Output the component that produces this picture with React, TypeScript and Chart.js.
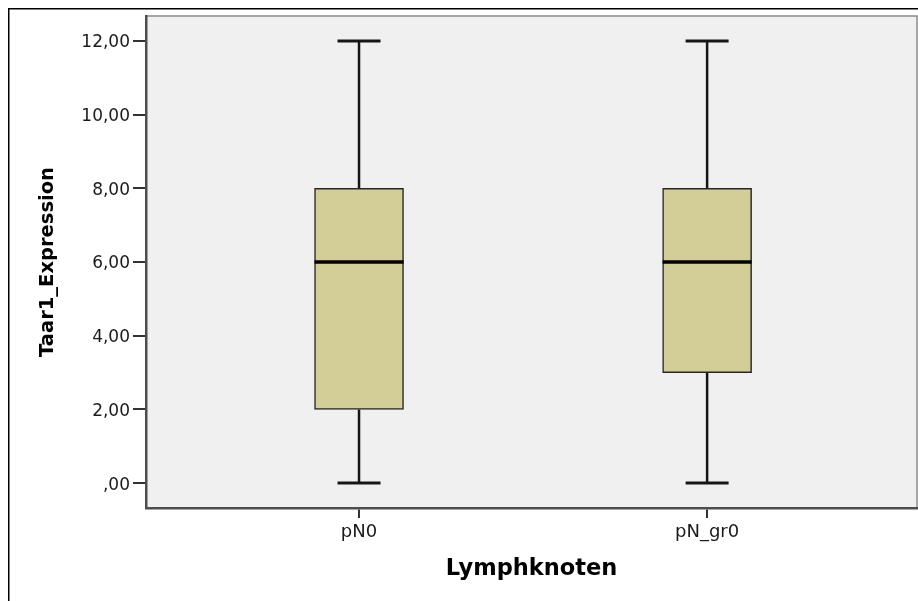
import { useEffect, useRef } from "react";
import { Chart, registerables } from "chart.js";

Chart.register(...registerables);

// Groups and their five-number summaries
const categories = ["pN0", "pN_gr0"];
const whiskerLow = [0, 0];
const quartile1 = [2, 3];
const medians = [6, 6];
const quartile3 = [8, 8];
const whiskerHigh = [12, 12];
const yTicks = [0, 2, 4, 6, 8, 10, 12];

const BOX_FILL = "#d3ce97";
const FONT = "'DejaVu Sans', sans-serif";

// German decimal comma, leading zero dropped for |v| < 1
const formatValue = (v: number) => {
  const s = v.toFixed(2).replace(".", ",");
  return Math.abs(v) < 1 ? s.replace(/^(-?)0,/, "$1,") : s;
};

const boxPlotPlugin = {
  id: "boxWhiskers",
  beforeDraw(chart: any) {
    const { ctx, chartArea: a } = chart;
    ctx.save();
    // outer frame
    ctx.strokeStyle = "#000";
    ctx.lineWidth = 1.5;
    ctx.beginPath();
    ctx.moveTo(8.75, chart.height + 5);
    ctx.lineTo(8.75, 8.75);
    ctx.lineTo(chart.width + 5, 8.75);
    ctx.stroke();
    // plot background
    ctx.fillStyle = "#f0f0f0";
    ctx.fillRect(a.left, a.top, a.right - a.left, a.bottom - a.top);
    ctx.strokeStyle = "#8a8a8a";
    ctx.lineWidth = 1.5;
    ctx.beginPath();
    ctx.moveTo(a.left, a.top);
    ctx.lineTo(a.right, a.top);
    ctx.lineTo(a.right, a.bottom);
    ctx.stroke();
    ctx.restore();
  },
  beforeDatasetsDraw(chart: any) {
    const { ctx } = chart;
    const xs = chart.scales.x;
    const ys = chart.scales.y;
    const capHalf = 21.5;
    ctx.save();
    ctx.strokeStyle = "#161616";
    categories.forEach((_, i) => {
      const x = xs.getPixelForValue(i);
      const yMin = ys.getPixelForValue(whiskerLow[i]);
      const yQ1 = ys.getPixelForValue(quartile1[i]);
      const yQ3 = ys.getPixelForValue(quartile3[i]);
      const yMax = ys.getPixelForValue(whiskerHigh[i]);
      ctx.lineWidth = 2.5;
      ctx.beginPath();
      ctx.moveTo(x, yQ3);
      ctx.lineTo(x, yMax);
      ctx.moveTo(x, yQ1);
      ctx.lineTo(x, yMin);
      ctx.stroke();
      ctx.lineWidth = 3;
      ctx.beginPath();
      ctx.moveTo(x - capHalf, yMax);
      ctx.lineTo(x + capHalf, yMax);
      ctx.moveTo(x - capHalf, yMin);
      ctx.lineTo(x + capHalf, yMin);
      ctx.stroke();
    });
    ctx.restore();
  },
  afterDatasetsDraw(chart: any) {
    const { ctx } = chart;
    const meta = chart.getDatasetMeta(0);
    const ys = chart.scales.y;
    ctx.save();
    ctx.strokeStyle = "#000";
    ctx.lineWidth = 3.5;
    meta.data.forEach((bar: any, i: number) => {
      const half = bar.width / 2;
      const y = ys.getPixelForValue(medians[i]);
      ctx.beginPath();
      ctx.moveTo(bar.x - half, y);
      ctx.lineTo(bar.x + half, y);
      ctx.stroke();
    });
    ctx.restore();
  },
};

export default function App() {
  const canvasRef = useRef<HTMLCanvasElement | null>(null);

  useEffect(() => {
    if (!canvasRef.current) return;
    const chart = new Chart(canvasRef.current, {
      type: "bar",
      data: {
        datasets: [
          {
            data: categories.map((_, i) => ({ x: i, y: [quartile1[i], quartile3[i]] })) as any,
            backgroundColor: BOX_FILL,
            borderColor: "#262626",
            borderWidth: 1.5,
            borderSkipped: false,
            barThickness: 89,
          },
        ],
      },
      options: {
        responsive: false,
        animation: false,
        devicePixelRatio: 1,
        layout: { padding: { top: 16, right: 1, left: 0, bottom: 0 } },
        plugins: {
          legend: { display: false },
          tooltip: { enabled: false },
        },
        scales: {
          x: {
            type: "linear",
            offset: false,
            min: -0.612,
            max: 1.603,
            afterBuildTicks: (s: any) => {
              s.ticks = categories.map((_, i) => ({ value: i }));
            },
            afterFit: (s: any) => {
              s.height = 93;
            },
            grid: {
              offset: false,
              drawOnChartArea: false,
              drawTicks: true,
              tickLength: 10,
              color: "#333",
              lineWidth: 2,
            },
            border: { display: true, color: "#4d4d4d", width: 2.5 },
            ticks: {
              padding: 4,
              color: "#1a1a1a",
              font: { family: FONT, size: 18 },
              maxRotation: 0,
              autoSkip: false,
              callback: (v: any) => categories[Number(v)] ?? "",
            },
            title: {
              display: true,
              text: "Lymphknoten",
              color: "#000",
              font: { family: FONT, size: 22.5, weight: "bold" },
              padding: { top: 0, bottom: 18 },
            },
          },
          y: {
            type: "linear",
            min: -0.675,
            max: 12.675,
            afterBuildTicks: (s: any) => {
              s.ticks = yTicks.map((v) => ({ value: v }));
            },
            afterFit: (s: any) => {
              s.width = 146;
            },
            grid: {
              drawOnChartArea: false,
              drawTicks: true,
              tickLength: 13,
              color: "#333",
              lineWidth: 2,
            },
            border: { display: true, color: "#4d4d4d", width: 2.5 },
            ticks: {
              padding: 3,
              labelOffset: 2,
              color: "#1a1a1a",
              font: { family: FONT, size: 17 },
              callback: (v: any) => formatValue(Number(v)),
            },
            title: {
              display: true,
              text: "Taar1_Expression",
              color: "#000",
              font: { family: FONT, size: 19.5, weight: "bold" },
              padding: { top: 36, bottom: 0 },
            },
          },
        },
      },
      plugins: [boxPlotPlugin],
    });
    return () => chart.destroy();
  }, []);

  return (
    <div style={{ position: "absolute", left: 0, top: 0, width: 918, height: 601, background: "#fff" }}>
      <canvas ref={canvasRef} width={918} height={601} />
    </div>
  );
}
